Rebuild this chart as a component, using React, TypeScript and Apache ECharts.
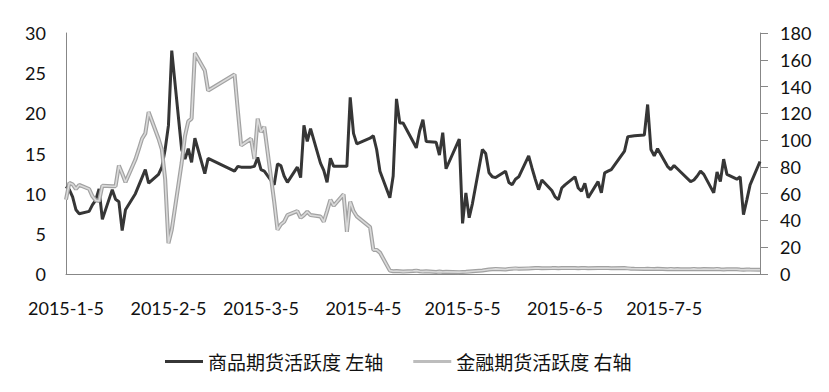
import React, { useEffect, useRef } from "react";
import * as echarts from "echarts";

// Trading days shown in the chart
const tradeDays: string[] = [
  "2015-1-5","2015-1-6","2015-1-7","2015-1-8","2015-1-9","2015-1-12","2015-1-13","2015-1-14","2015-1-15","2015-1-16",
  "2015-1-19","2015-1-20","2015-1-21","2015-1-22","2015-1-23","2015-1-26","2015-1-27","2015-1-28","2015-1-29","2015-1-30",
  "2015-2-2","2015-2-3","2015-2-4","2015-2-5","2015-2-6","2015-2-9","2015-2-10","2015-2-11","2015-2-12","2015-2-13",
  "2015-2-16","2015-2-17","2015-2-25","2015-2-26","2015-2-27",
  "2015-3-2","2015-3-3","2015-3-4","2015-3-5","2015-3-6","2015-3-9","2015-3-10","2015-3-11","2015-3-12","2015-3-13",
  "2015-3-16","2015-3-17","2015-3-18","2015-3-19","2015-3-20","2015-3-23","2015-3-24","2015-3-25","2015-3-26","2015-3-27",
  "2015-3-30","2015-3-31",
  "2015-4-1","2015-4-2","2015-4-3","2015-4-7","2015-4-8","2015-4-9","2015-4-10","2015-4-13","2015-4-14","2015-4-15",
  "2015-4-16","2015-4-17","2015-4-20","2015-4-21","2015-4-22","2015-4-23","2015-4-24","2015-4-27","2015-4-28","2015-4-29",
  "2015-4-30",
  "2015-5-4","2015-5-5","2015-5-6","2015-5-7","2015-5-8","2015-5-11","2015-5-12","2015-5-13","2015-5-14","2015-5-15",
  "2015-5-18","2015-5-19","2015-5-20","2015-5-21","2015-5-22","2015-5-25","2015-5-26","2015-5-27","2015-5-28","2015-5-29",
  "2015-6-1","2015-6-2","2015-6-3","2015-6-4","2015-6-5","2015-6-8","2015-6-9","2015-6-10","2015-6-11","2015-6-12",
  "2015-6-15","2015-6-16","2015-6-17","2015-6-18","2015-6-19","2015-6-23","2015-6-24","2015-6-25","2015-6-26","2015-6-29",
  "2015-6-30",
  "2015-7-1","2015-7-2","2015-7-3","2015-7-6","2015-7-7","2015-7-8","2015-7-9","2015-7-10","2015-7-13","2015-7-14",
  "2015-7-15","2015-7-16","2015-7-17","2015-7-20","2015-7-21","2015-7-22","2015-7-23","2015-7-24","2015-7-27","2015-7-28",
  "2015-7-29","2015-7-30","2015-7-31",
  "2015-8-3",
];

// 商品期货活跃度 (left axis)
const commodity: number[] = [
  10.9, 10.5, 9.6, 8.0, 7.5, 7.8, 8.6, 9.2, 10.6, 6.8, 10.5, 9.3, 9.0, 5.4, 8.0, 10.0, 11.0, 12.0, 13.0, 11.3,
  12.4, 13.3, 15.5, 18.5, 27.8, 15.5, 14.3, 15.6, 13.9, 16.9, 12.5, 14.4, 12.8, 13.4, 13.3,
  13.3, 13.4, 14.5, 13.0, 12.8, 11.1, 13.7, 13.5, 12.2, 11.4, 13.3, 12.0, 18.5, 16.5, 18.1, 13.8, 12.9, 11.4, 14.4, 13.4, 13.4, 13.4,
  22.0, 17.5, 16.2, 16.9, 17.2, 15.5, 12.8, 9.5, 12.2, 21.8, 18.8, 18.8, 16.5, 15.7, 17.8, 19.2, 16.5, 16.4, 14.8, 17.6, 13.1,
  16.8, 6.3, 10.1, 7.0, 8.8, 15.5, 15.0, 12.6, 12.1, 12.0, 12.8, 11.4, 11.1, 11.8, 12.1, 14.7, 13.2, 11.8, 10.5, 11.7,
  10.4, 9.6, 9.25, 10.7, 11.1, 12.1, 10.7, 10.3, 11.3, 9.5, 11.5, 10.1, 12.6, 12.8, 13.0, 15.3, 17.1, 17.15, 17.2, 17.3, 21.1,
  15.5, 14.7, 15.6, 13.4, 13.0, 13.5, 13.1, 12.7, 11.5, 11.7, 12.2, 12.8, 12.4, 10.1, 12.7, 11.5, 14.3, 12.4, 11.8, 12.1, 7.4, 9.2, 11.1,
  14.0,
];

// 金融期货活跃度 (right axis)
const financial: number[] = [
  55.5, 68, 67, 63.5, 66.5, 63.5, 58, 55, 54.5, 66, 65.5, 65.5, 81, 75, 68.5, 85.5, 93, 101, 105, 121,
  101, 93, 71, 23, 33, 83, 103, 114, 116, 165, 152, 137, 149, 122, 96,
  101, 86, 116, 106, 110, 54, 33, 37, 39, 44, 47, 42, 44, 46.5, 44, 43, 39, 47, 55.5, 51, 59.5, 31.5,
  54, 47, 43, 35, 18, 18, 16, 2.5, 2.0, 2.2, 2.0, 1.8, 2.2, 2.5, 2.0, 1.8, 2.0, 1.5, 1.8, 1.5, 1.6,
  1.4, 1.5, 1.6, 1.8, 2.0, 2.6, 3.0, 3.4, 3.6, 3.8, 3.4, 3.8, 4.0, 4.2, 3.9, 4.2, 4.3, 4.4, 4.5, 4.3,
  4.4, 4.5, 4.3, 4.4, 4.5, 4.4, 4.3, 4.5, 4.4, 4.3, 4.5, 4.4, 4.5, 4.4, 4.3, 4.4, 4.2, 4.0, 3.9, 3.8, 3.9,
  3.8, 3.7, 3.9, 3.6, 3.8, 3.5, 3.7, 3.6, 3.5, 3.8, 3.6, 3.5, 3.7, 3.6, 3.8, 3.5, 3.4, 3.6, 3.5, 3.3, 3.2, 3.4, 3.3,
  3.2,
];

const seriesNames: string[] = ["商品期货活跃度 左轴", "金融期货活跃度 右轴"];
const axisStart = "2015-1-5";
const axisEnd = "2015-8-3";

function parseDay(s: string): number {
  const [y, m, d] = s.split("-").map(Number);
  return Date.UTC(y, m - 1, d);
}

function buildCalendar(start: string, end: string): string[] {
  const out: string[] = [];
  for (let t = parseDay(start); t <= parseDay(end); t += 86400000) {
    const d = new Date(t);
    out.push(`${d.getUTCFullYear()}-${d.getUTCMonth() + 1}-${d.getUTCDate()}`);
  }
  return out;
}

export default function App() {
  const ref = useRef<HTMLDivElement>(null);

  useEffect(() => {
    if (!ref.current) return;
    const chart = echarts.init(ref.current, undefined, { renderer: "svg" });
    const calendar = buildCalendar(axisStart, axisEnd);
    const cMap = new Map<string, number>();
    const fMap = new Map<string, number>();
    tradeDays.forEach((d, i) => {
      cMap.set(d, commodity[i]);
      fMap.set(d, financial[i]);
    });
    const cData = calendar.map((d) => (cMap.has(d) ? cMap.get(d)! : null));
    const fData = calendar.map((d) => (fMap.has(d) ? fMap.get(d)! : null));

    const labelFont = { fontFamily: "Lato", fontSize: 18, color: "#111" };
    const axisLineStyle = { color: "#878787", width: 1 };

    chart.setOption({
      animation: false,
      grid: { left: 66, right: 69, top: 33, bottom: 118, containLabel: false },
      legend: {
        left: 165,
        top: 352,
        padding: 0,
        icon: "rect",
        itemWidth: 38,
        itemHeight: 3,
        itemGap: 30,
        textStyle: { fontFamily: "Noto Sans CJK SC", fontSize: 19, color: "#111" },
        data: [
          { name: seriesNames[0], itemStyle: { color: "#363636" } },
          { name: seriesNames[1], itemStyle: { color: "#bdbdbd" } },
        ],
      },
      xAxis: {
        type: "category",
        data: calendar,
        boundaryGap: false,
        axisLine: { lineStyle: axisLineStyle },
        axisTick: { show: false },
        axisLabel: {
          ...labelFont,
          margin: 25,
          interval: (_i: number, v: string) => /-5$/.test(v) && !/-15$|-25$/.test(v),
        },
        splitLine: { show: false },
      },
      yAxis: [
        {
          type: "value",
          min: 0,
          max: 30,
          interval: 5,
          axisLine: { show: true, lineStyle: axisLineStyle },
          axisTick: { show: false },
          axisLabel: { ...labelFont, margin: 20 },
          splitLine: { show: false },
        },
        {
          type: "value",
          min: 0,
          max: 180,
          interval: 20,
          position: "right",
          axisLine: { show: true, lineStyle: axisLineStyle },
          axisTick: { show: true, length: 8, lineStyle: axisLineStyle },
          axisLabel: { ...labelFont, margin: 20 },
          splitLine: { show: false },
        },
      ],
      series: [
        {
          name: seriesNames[0],
          type: "line",
          yAxisIndex: 0,
          data: cData,
          connectNulls: true,
          symbol: "none",
          lineStyle: { color: "#363636", width: 3 },
          itemStyle: { color: "#363636" },
        },
        {
          name: seriesNames[1],
          type: "line",
          yAxisIndex: 1,
          data: fData,
          connectNulls: true,
          symbol: "none",
          lineStyle: { color: "#a2a2a2", width: 4 },
          itemStyle: { color: "#bdbdbd" },
        },
        {
          name: "inner",
          type: "line",
          yAxisIndex: 1,
          data: fData,
          connectNulls: true,
          symbol: "none",
          silent: true,
          lineStyle: { color: "#dadada", width: 1.6 },
          itemStyle: { color: "#dadada" },
        },
      ],
    });
    return () => chart.dispose();
  }, []);

  return (
    <div
      ref={ref}
      style={{ position: "absolute", left: 0, top: 0, width: 829, height: 392, background: "#fff" }}
    />
  );
}
